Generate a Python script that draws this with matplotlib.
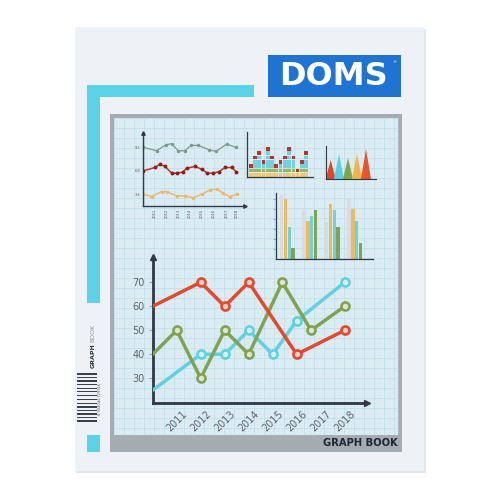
import matplotlib
matplotlib.use("Agg")
import matplotlib.pyplot as plt
from matplotlib.patches import Rectangle, Polygon
from matplotlib.collections import LineCollection
import numpy as np

# ---------------- data ----------------
years = [2011, 2012, 2013, 2014, 2015, 2016, 2017, 2018]
y_ticks = [30, 40, 50, 60, 70]

red_x = [2010, 2012, 2013, 2014, 2016, 2018]
red_y = [60, 70, 60, 70, 40, 50]
green_x = [2010, 2011, 2012, 2013, 2014, 2015.4, 2016.6, 2018]
green_y = [40, 50, 30, 50, 40, 70, 50, 60]
cyan_x = [2010, 2012, 2013, 2014, 2015, 2016, 2018]
cyan_y = [25, 40, 40, 50, 40, 54, 70]

# small line chart
sl_gray_x = [0, 1.31, 2.23, 2.79, 3.44, 4.10, 4.69, 5.41, 6.46, 7.15, 8.20, 9.11]
sl_gray_y = [17.5, 16.5, 18.3, 18.6, 16.5, 16.5, 18.1, 18.1, 16.8, 16.3, 18.5, 17.5]
sl_red_x = [0, 1.15, 1.64, 2.13, 2.79, 3.28, 3.87, 4.26, 5.08, 5.74, 6.30, 6.89, 7.48, 8.03, 8.69, 9.11]
sl_red_y = [10.5, 11.5, 12.5, 11.8, 9.8, 9.8, 10.1, 11.3, 11.8, 11.0, 9.8, 9.8, 10.3, 11.5, 11.5, 10.3]
sl_yel_x = [0, 0.82, 1.80, 2.30, 3.28, 4.10, 4.92, 5.74, 6.56, 7.21, 7.87, 8.52, 9.18]
sl_yel_y = [3.5, 2.8, 4.3, 4.3, 3.0, 3.0, 2.5, 3.5, 4.8, 5.1, 3.8, 2.8, 3.6]
sl_ytick_pos = [3.5, 10.5, 17.5]
sl_ytick_lab = ["3.4", "6.8", "9.1"]
sl_xtick_pos = [1.15, 2.3, 3.44, 4.6, 5.74, 6.9, 8.2, 9.18]
sl_xtick_lab = ["2011", "2012", "2013", "2014", "2015", "2016", "2017", "2018"]

# stacked square chart (cells per column)
sq_heights = [3, 5, 6, 4, 7, 5, 3, 4, 5, 7, 5, 2, 4, 6]

# triangle chart
tri_centers = [4.7, 13, 22, 31, 40]
tri_heights = [19, 25, 21, 25, 30]
tri_colors = ["#e2452a", "#5dcfe3", "#7da64f", "#f0b54a", "#e8552c"]

# grouped bar chart
gb_gray = [64, 49, 37, 60]
gb_yellow = [60, 38, 55, 50]
gb_cyan = [32, 43, 49, 38]
gb_green = [11, 49, 32, 16]

barcode_bars = [1.5, 0.6, 1.0, 0.5, 1.6, 0.6, 0.9, 1.4, 0.5, 1.0, 0.6, 1.5, 0.5, 1.2,
                0.6, 1.6, 0.5, 0.9, 1.3, 0.6, 1.0, 0.5, 1.5, 0.6, 1.1, 0.5, 1.4]

# ---------------- figure ----------------
W = H = 500
fig = plt.figure(figsize=(5, 5), dpi=100)
fig.patch.set_facecolor("white")

bg = fig.add_axes([0, 0, 1, 1])
bg.set_xlim(0, W)
bg.set_ylim(H, 0)
bg.axis("off")

def rect(x0, y0, x1, y1, color, z=1, **kw):
    bg.add_patch(Rectangle((x0, y0), x1 - x0, y1 - y0, facecolor=color,
                           edgecolor="none", zorder=z, **kw))

# page with slight shadow
rect(76, 29, 426, 473, "#e3e7eb", z=0)
rect(75, 27, 424, 471, "#eef2f6", z=1)

# cyan decorations
CY = "#5bd3e6"
rect(87, 85, 254, 97, CY, z=2)
rect(87, 85, 100, 303, CY, z=2)
rect(87, 435, 100, 452, CY, z=2)

# gray frame and paper
rect(110, 114, 402, 452, "#a4abb1", z=2)
PX0, PY0, PX1, PY1 = 114, 118, 398, 435
rect(PX0, PY0, PX1, PY1, "#e1f0f5", z=3)

minor, major = [], []
for x in np.arange(PX0, PX1 + 0.1, 2.0):
    (major if int(round(x - PX0)) % 10 == 0 else minor).append([(x, PY0), (x, PY1)])
for y in np.arange(PY0, PY1 + 0.1, 2.0):
    (major if int(round(y - PY0)) % 10 == 0 else minor).append([(PX0, y), (PX1, y)])
bg.add_collection(LineCollection(minor, colors="#d2e7ef", linewidths=0.3, zorder=4))
bg.add_collection(LineCollection(major, colors="#bfdbe6", linewidths=0.5, zorder=4))

bg.text(398, 443.5, "GRAPH BOOK", ha="right", va="center", fontsize=7.2,
        fontweight="bold", color="#1d2735", zorder=5)

# DOMS logo
rect(268, 55, 401, 97, "#1f74d2", z=5)
bg.text(333, 76.5, "DOMS", ha="center", va="center", fontsize=23, fontweight="bold",
        color="white", zorder=6)
bg.text(394, 62, "®", ha="center", va="center", fontsize=3, color="white", zorder=6)

# spine text
bg.text(93, 368, "GRAPH", rotation=90, ha="center", va="bottom", fontsize=4.5,
        fontweight="bold", color="#2a3440", zorder=5)
bg.text(93, 342, "BOOK", rotation=90, ha="center", va="bottom", fontsize=4.5,
        color="#8b939b", zorder=5)

# barcode
yb = 373.0
for i, t in enumerate(barcode_bars):
    if i % 2 == 0:
        rect(77, yb, 97, yb + t * 1.3, "#3b4148", z=5)
    yb += t * 1.3 + 0.6
bg.text(100, 399, "8 904044 729916", rotation=90, ha="center", va="center",
        fontsize=2.6, color="#555b61", zorder=5)

def px_axes(x0, y0, x1, y1):
    a = fig.add_axes([x0 / W, 1 - y1 / H, (x1 - x0) / W, (y1 - y0) / H])
    a.set_facecolor("none")
    a.set_zorder(10)
    return a

AX = "#2f3a44"

def arrow_axes(a, lw, ms):
    for s in ["top", "right"]:
        a.spines[s].set_visible(False)
    for s in ["left", "bottom"]:
        a.spines[s].set_color(AX)
        a.spines[s].set_linewidth(lw)
    a.plot([0], [1], marker="^", color=AX, ms=ms, transform=a.transAxes, clip_on=False)
    a.plot([1], [0], marker=">", color=AX, ms=ms, transform=a.transAxes, clip_on=False)

# ---------------- main chart ----------------
ax = px_axes(152.7, 257, 367, 403)
ax.set_xlim(2010, 2010 + (367 - 152.7) / 24)
ax.set_ylim(30 - (403 - 378.3) / 2.4, 30 - (403 - 378.3) / 2.4 + (403 - 257) / 2.4)
arrow_axes(ax, 2.0, 5)

series = [
    (cyan_x, cyan_y, "#63d0e2", "#d3f1f6"),
    (green_x, green_y, "#80a352", "#dfe8cf"),
    (red_x, red_y, "#e2492d", "#f6d2c7"),
]
for xs, ys, c, fc in series:
    ax.plot(xs, ys, color=c, lw=2.5, solid_capstyle="round", zorder=3)
    ax.plot(xs[1:], ys[1:], "o", color=c, ms=5.8, mfc=fc, mec=c, mew=1.9, zorder=4)

ax.set_yticks(y_ticks)
ax.set_yticklabels([str(v) for v in y_ticks])
ax.set_xticks(years)
ax.set_xticklabels([str(v) for v in years], rotation=45, ha="center")
ax.tick_params(axis="y", length=3, width=0.8, color="#9aa4ab", labelsize=7,
               labelcolor="#5d656c", pad=3)
ax.tick_params(axis="x", length=0, labelsize=7, labelcolor="#5d656c", pad=4)

# ---------------- small line chart ----------------
a1 = px_axes(143.3, 133, 245, 206)
a1.set_xlim(0, 10)
a1.set_ylim(0, 21.8)
arrow_axes(a1, 1.0, 2.5)
a1.plot(sl_gray_x, sl_gray_y, color="#7f9a88", lw=0.9, marker="o", ms=1.5)
a1.plot(sl_red_x, sl_red_y, color="#c8322a", lw=1.1, marker="o", ms=1.8, mfc="#8e1f1a", mec="#8e1f1a")
a1.plot(sl_yel_x, sl_yel_y, color="#eab870", lw=1.1, marker="o", ms=1.5)
a1.set_yticks(sl_ytick_pos)
a1.set_yticklabels(sl_ytick_lab)
a1.set_xticks(sl_xtick_pos)
a1.set_xticklabels(sl_xtick_lab, rotation=90)
a1.tick_params(length=0, labelsize=2.6, labelcolor="#555b61", pad=2)

# ---------------- stacked squares chart ----------------
a2 = px_axes(247, 132, 313, 177)
a2.set_xlim(-0.87, 14.6)
a2.set_ylim(0, 10.4)
for s in ["top", "right"]:
    a2.spines[s].set_visible(False)
for s in ["left", "bottom"]:
    a2.spines[s].set_color(AX)
    a2.spines[s].set_linewidth(0.9)
a2.set_xticks([])
a2.set_yticks([])
for i, h in enumerate(sq_heights):
    for r in range(h):
        if r == h - 1:
            col = "#b9322c"
        elif r == 0:
            col = "#f3c878"
        elif r == 1:
            col = "#95b963"
        else:
            col = "#72d1e1"
        a2.bar(i, 0.86, bottom=r + 0.07, width=0.86, color=col, linewidth=0)

# ---------------- triangle chart ----------------
a3 = px_axes(326, 146, 376, 179)
a3.set_xlim(0, 50)
a3.set_ylim(0, 33)
for s in ["top", "right"]:
    a3.spines[s].set_visible(False)
for s in ["left", "bottom"]:
    a3.spines[s].set_color(AX)
    a3.spines[s].set_linewidth(0.8)
a3.set_xticks([])
a3.set_yticks([])
for cx, h, c in zip(tri_centers, tri_heights, tri_colors):
    a3.add_patch(Polygon([(cx - 5, 0), (cx, h), (cx + 5, 0)], closed=True,
                         facecolor=c, edgecolor="none"))

# ---------------- grouped bar chart ----------------
a4 = px_axes(276, 193, 373, 259)
a4.set_xlim(0, 97)
a4.set_ylim(0, 66)
for s in ["top", "right"]:
    a4.spines[s].set_visible(False)
for s in ["left", "bottom"]:
    a4.spines[s].set_color(AX)
    a4.spines[s].set_linewidth(0.9)
a4.set_xticks([])
a4.set_yticks([10, 20, 30, 40, 50, 60])
a4.set_yticklabels([])
a4.tick_params(axis="y", length=2, width=0.5, color="#8a949c")
gx = np.arange(4) * 22.5 + 11.3
for k, (vals, c) in enumerate([(gb_gray, "#d7dbe6"), (gb_yellow, "#f0b95a"),
                               (gb_cyan, "#6fd0e0"), (gb_green, "#7fa552")]):
    a4.bar(gx + (k - 1.5) * 3.8, vals, width=3.4, color=c, linewidth=0)

fig.savefig("out.png", dpi=100)
